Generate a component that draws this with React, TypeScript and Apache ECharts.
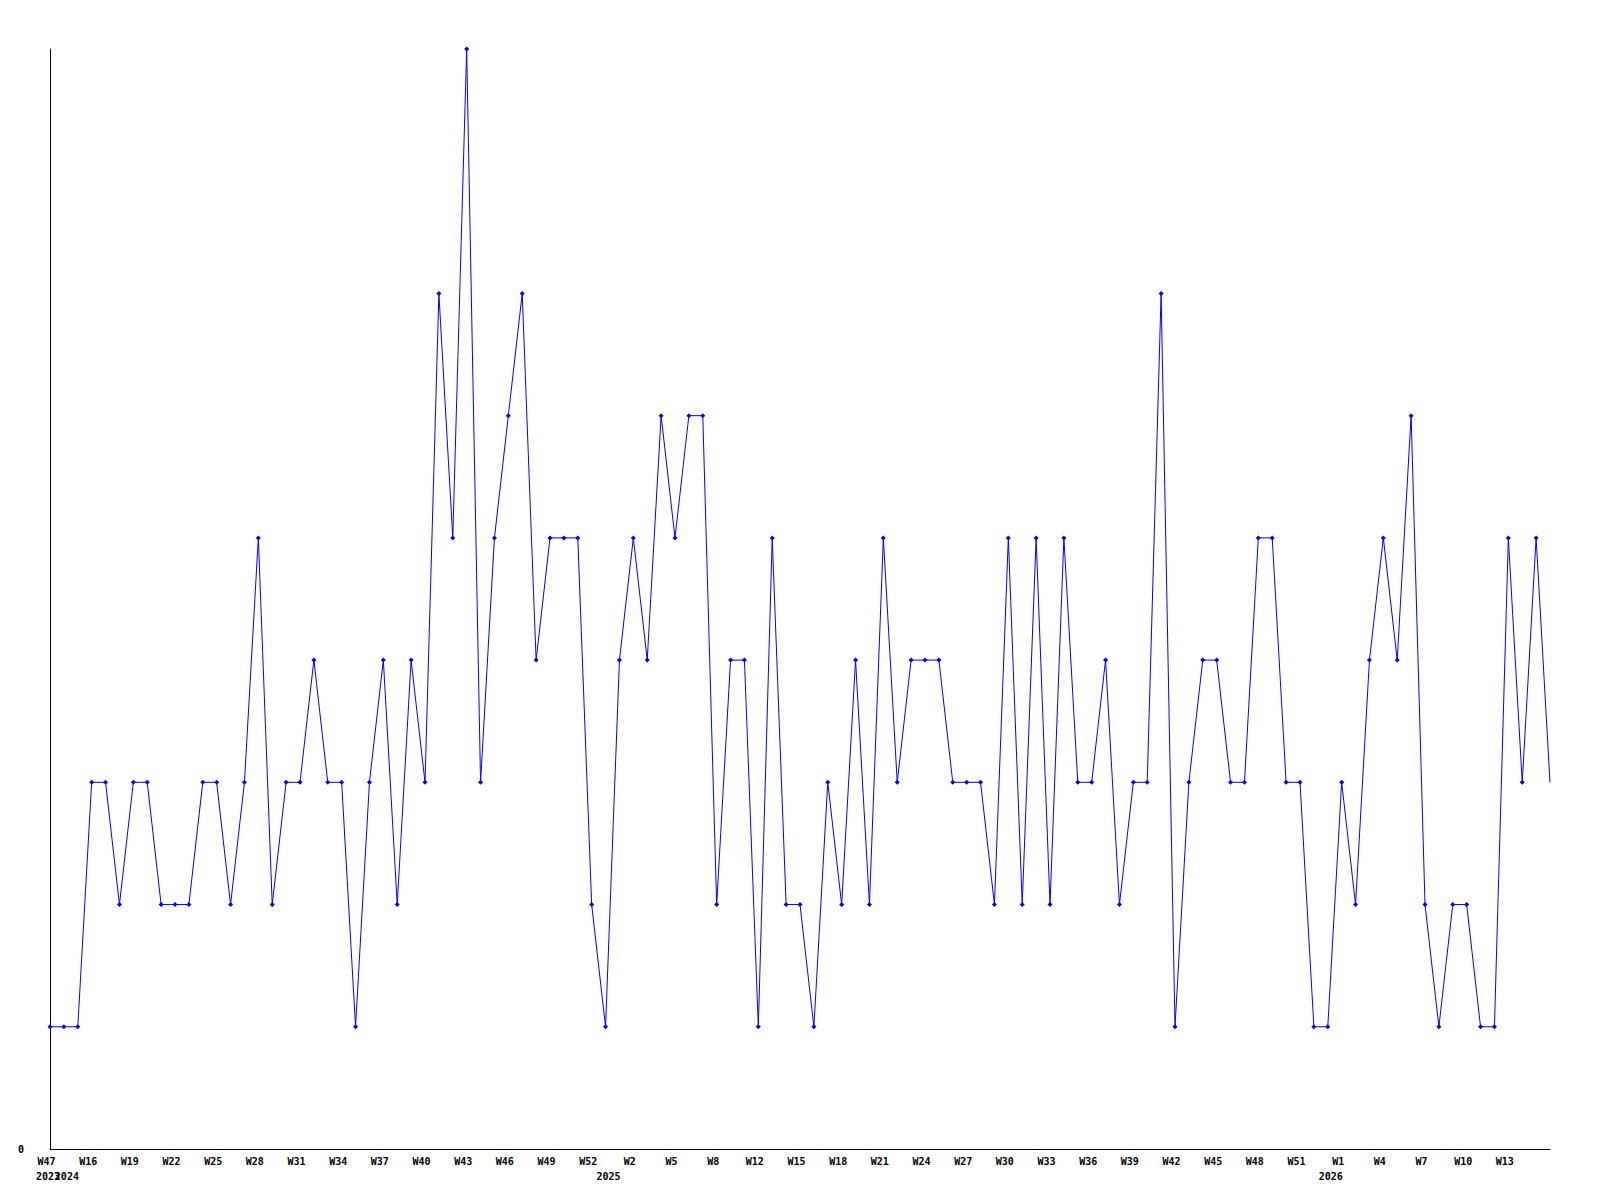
import React, { useEffect, useRef } from "react";
import * as echarts from "echarts";

const range = (a: number, b: number) => {
  const r: number[] = [];
  for (let i = a; i <= b; i++) r.push(i);
  return r;
};

// Week numbers per year (data has gaps)
const weeks2023 = [47];
const weeks2024 = range(14, 52);
const weeks2025 = [...range(0, 10), ...range(12, 52)];
const weeks2026 = range(0, 16);

// Weekly counts per year
const values2023 = [1];
const values2024 = [1, 1, 3, 3, 2, 3, 3, 2, 2, 2, 3, 3, 2, 3, 5, 2, 3, 3, 4, 3, 3, 1, 3, 4, 2, 4, 3, 7, 5, 9, 3, 5, 6, 7, 4, 5, 5, 5, 2];
const values2025 = [1, 4, 5, 4, 6, 5, 6, 6, 2, 4, 4, 1, 5, 2, 2, 1, 3, 2, 4, 2, 5, 3, 4, 4, 4, 3, 3, 3, 2, 5, 2, 5, 2, 5, 3, 3, 4, 2, 3, 3, 7, 1, 3, 4, 4, 3, 3, 5, 5, 3, 3, 1];
const values2026 = [1, 3, 2, 4, 5, 4, 6, 2, 1, 2, 2, 1, 1, 5, 3, 5, 3];

const yearBlocks = [
  { year: "2023", weeks: weeks2023, values: values2023 },
  { year: "2024", weeks: weeks2024, values: values2024 },
  { year: "2025", weeks: weeks2025, values: values2025 },
  { year: "2026", weeks: weeks2026, values: values2026 },
];

export default function App() {
  const ref = useRef<HTMLDivElement>(null);
  useEffect(() => {
    if (!ref.current) return;
    const chart = echarts.init(ref.current, null, { renderer: "svg" });

    const categories: string[] = [];
    const years: string[] = [];
    const values: any[] = [];
    yearBlocks.forEach((b) => {
      b.weeks.forEach((w, i) => {
        categories.push("W" + w);
        years.push(i === 0 ? b.year : "");
        values.push(b.values[i]);
      });
    });
    const seriesData = values.map((v, i) =>
      i === values.length - 1 ? { value: v, symbol: "none" } : v
    );

    const font = {
      fontFamily: "DejaVu Sans Mono",
      fontWeight: "bold" as const,
      fontSize: 10,
      color: "#000",
    };

    const yearAxis = (pred: (i: number) => boolean, pad: number[]) => ({
      type: "category",
      data: categories,
      boundaryGap: false,
      position: "bottom",
      offset: 15,
      axisLine: { show: false },
      axisTick: { show: false },
      splitLine: { show: false },
      axisLabel: {
        ...font,
        margin: 7,
        padding: pad,
        interval: (index: number) => pred(index),
        formatter: (_v: string, index: number) => years[index],
        hideOverlap: false,
        showMinLabel: true,
        showMaxLabel: true,
      },
    });

    chart.setOption({
      animation: false,
      backgroundColor: "#fff",
      grid: { left: 50, right: 50, top: 49, bottom: 51, containLabel: false },
      xAxis: [
        {
          type: "category",
          data: categories,
          boundaryGap: false,
          position: "bottom",
          axisLine: { show: true, lineStyle: { color: "#000", width: 1 } },
          axisTick: { show: false },
          splitLine: { show: false },
          axisLabel: {
            ...font,
            margin: 7,
            padding: [0, 7, 0, 0],
            interval: (index: number) => index % 3 === 0,
            hideOverlap: false,
            showMinLabel: true,
            showMaxLabel: false,
          },
        },
        yearAxis((i) => i === 0, [0, 4, 0, 0]),
        yearAxis((i) => i > 0 && years[i] !== "", [0, 0, 0, 6]),
      ],
      yAxis: {
        type: "value",
        min: 0,
        max: 9,
        interval: 1,
        axisLine: { show: true, lineStyle: { color: "#000", width: 1 } },
        axisTick: { show: false },
        splitLine: { show: false },
        axisLabel: {
          ...font,
          margin: 26,
          formatter: (v: number) => (v === 0 ? "0" : ""),
        },
      },
      series: [
        {
          type: "line",
          xAxisIndex: 0,
          data: seriesData,
          symbol: "diamond",
          symbolSize: 5,
          showAllSymbol: true,
          lineStyle: { color: "#0000ff", width: 1 },
          itemStyle: { color: "#0000ff" },
        },
      ],
    });
    return () => chart.dispose();
  }, []);

  return (
    <div
      ref={ref}
      style={{ position: "fixed", left: 0, top: 0, width: 1600, height: 1200, background: "#fff" }}
    />
  );
}
